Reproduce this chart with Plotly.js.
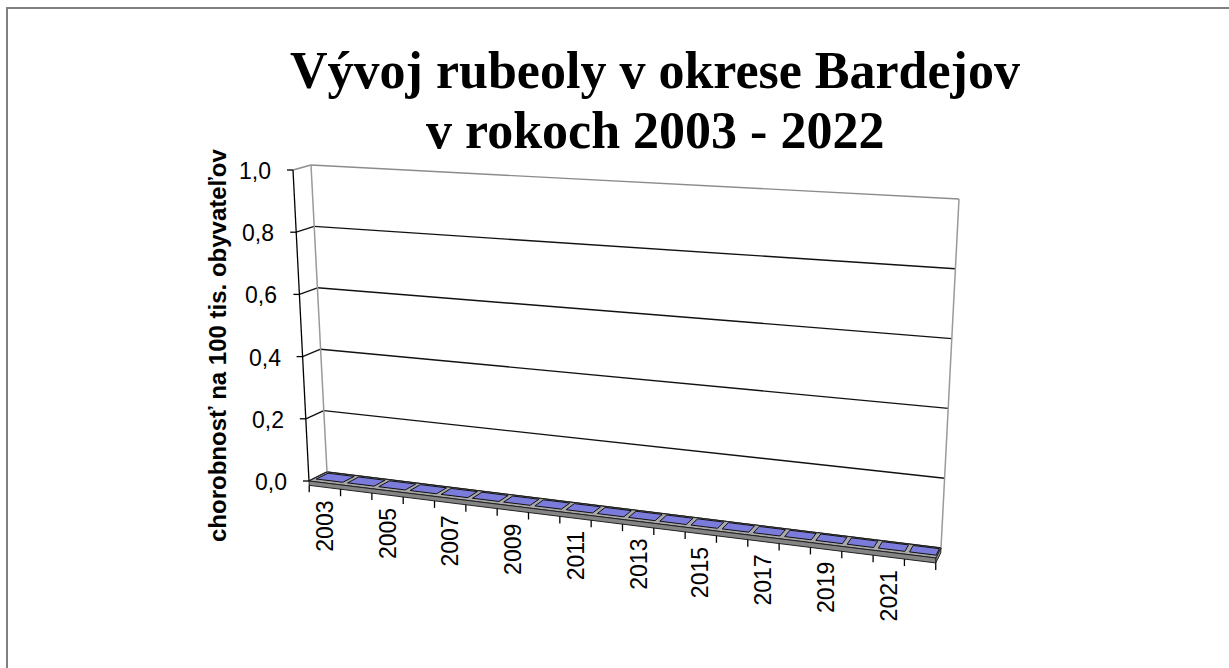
<!DOCTYPE html>
<html><head><meta charset="utf-8">
<script src="https://cdn.plot.ly/plotly-3.0.1.min.js"></script>
<style>html,body{margin:0;padding:0;background:#fff}#chart{width:1229px;height:668px}</style>
</head><body><div id="chart"></div>
<script>
// ---------- data ----------
const years = [2003,2004,2005,2006,2007,2008,2009,2010,2011,2012,2013,2014,2015,2016,2017,2018,2019,2020,2021,2022];
const incidence = [0,0,0,0,0,0,0,0,0,0,0,0,0,0,0,0,0,0,0,0];
const xTickLabels = ['2003','2005','2007','2009','2011','2013','2015','2017','2019','2021'];
const yTickValues = [0,0.2,0.4,0.6,0.8,1.0];
const yTickLabels = ['0,0','0,2','0,4','0,6','0,8','1,0'];
const yMax = 1.0;
const titleLine1 = 'Vývoj rubeoly v okrese Bardejov';
const titleLine2 = 'v rokoch 2003 - 2022';
const yAxisTitle = 'chorobnosť na 100 tis. obyvateľov';

// ---------- 3D frame (screen frame of the Excel-like box) ----------
const C = {
  flb:[309,481], flt:[293,170], blb:[327,472], blt:[311,165],
  frb:[936,558], frt:[954,205], brb:[941,548], brt:[959,199]
};
const FLOOR_T = 0.014;
const N = years.length;
function lerp(a,b,t){return [a[0]+(b[0]-a[0])*t, a[1]+(b[1]-a[1])*t];}
function proj(u,v,w){
  const fb=lerp(C.flb,C.frb,u), ft=lerp(C.flt,C.frt,u), bb=lerp(C.blb,C.brb,u), bt=lerp(C.blt,C.brt,u);
  return lerp(lerp(fb,ft,v), lerp(bb,bt,v), w);
}
const traces = [];
function poly(pts, fill, line, lw){
  const xs=pts.map(p=>p[0]).concat([pts[0][0]]), ys=pts.map(p=>p[1]).concat([pts[0][1]]);
  traces.push({type:'scatter',mode:'lines',x:xs,y:ys,fill:fill?'toself':'none',fillcolor:fill||'rgba(0,0,0,0)',
    line:{color:line,width:lw},hoverinfo:'skip',showlegend:false});
}
function seg(a,b,color,w){
  traces.push({type:'scatter',mode:'lines',x:[a[0],b[0]],y:[a[1],b[1]],line:{color:color,width:w},hoverinfo:'skip',showlegend:false});
}
// walls
yTickValues.forEach(t=>{
  const v=t/yMax;
  const col = (t===yMax)? '#8c8c8c' : '#111111';
  seg(proj(0,v,0),proj(0,v,1),col,1.4);
  seg(proj(0,v,1),proj(1,v,1),col,1.4);
});
seg(proj(0,0,1),proj(0,1,1),'#9a9a9a',1.5);
seg(proj(1,0,1),proj(1,1,1),'#9a9a9a',1.5);
// floor
poly([proj(0,0,0),proj(1,0,0),proj(1,0,1),proj(0,0,1)],'#a8a8a8','#222',1);
poly([proj(0,-FLOOR_T,0),proj(1,-FLOOR_T,0),proj(1,0,0),proj(0,0,0)],'#858585','#222',1);
poly([proj(1,-FLOOR_T,0),proj(1,-FLOOR_T,1),proj(1,0,1),proj(1,0,0)],'#909090','#222',1);
// bars
const BU0=0.12, BU1=0.97, BW0=0.2, BW1=0.85;
incidence.forEach((val,i)=>{
  const v=val/yMax, u0=(i+BU0)/N, u1=(i+BU1)/N, lift=0.002;
  if(v>0){
    poly([proj(u0,0,BW0),proj(u1,0,BW0),proj(u1,v,BW0),proj(u0,v,BW0)],'#5c5cb8','#000',1);
    poly([proj(u1,0,BW0),proj(u1,0,BW1),proj(u1,v,BW1),proj(u1,v,BW0)],'#4a4a99','#000',1);
  }
  poly([proj(u0,v+lift,BW0),proj(u1,v+lift,BW0),proj(u1,v+lift,BW1),proj(u0,v+lift,BW1)],'#7b7bdc','#111',1);
});
// front-left value axis
seg(proj(0,0,0),proj(0,1,0),'#000',1.3);
const annotations=[];
const tickFont={family:'Liberation Sans, Arial, sans-serif',size:23,color:'#000'};
yTickValues.forEach((t,k)=>{
  const p=proj(0,t/yMax,0);
  seg([p[0]-6,p[1]],p,'#000',1.3);
  annotations.push({x:p[0]-20,y:p[1]+1,xref:'x',yref:'y',text:yTickLabels[k],showarrow:false,xanchor:'right',yanchor:'middle',font:tickFont});
});
// category axis ticks and labels
for(let k=0;k<=N;k++){
  const p=proj(k/N,-FLOOR_T,0);
  seg(p,[p[0],p[1]+7],'#000',1.3);
}
years.forEach((yr,i)=>{
  const lab=String(yr);
  if(xTickLabels.indexOf(lab)<0) return;
  const p=proj((i+0.5)/N,-FLOOR_T,0);
  annotations.push({x:p[0],y:p[1]+11,xref:'x',yref:'y',text:lab,showarrow:false,textangle:-90,xanchor:'center',yanchor:'top',font:tickFont});
});
annotations.push({x:217,y:345,xref:'x',yref:'y',text:'<b>'+yAxisTitle+'</b>',showarrow:false,textangle:-90,xanchor:'center',yanchor:'middle',
  font:{family:'Liberation Sans, Arial, sans-serif',size:24,color:'#000'}});
const titleFont={family:'Liberation Serif, Times New Roman, serif',size:52,weight:'bold',color:'#000'};
annotations.push({x:655,y:130,xref:'x',yref:'y',text:'<b>'+titleLine2+'</b>',showarrow:false,xanchor:'center',yanchor:'middle',font:titleFont});

const layout={
  width:1229,height:668,margin:{l:0,r:0,t:0,b:0},paper_bgcolor:'#fff',plot_bgcolor:'#fff',
  title:{text:titleLine1,x:655/1229,xanchor:'center',y:1-70/668,yanchor:'middle',yref:'container',font:titleFont},
  xaxis:{range:[0,1229],visible:false,fixedrange:true},
  yaxis:{range:[668,0],visible:false,fixedrange:true},
  showlegend:false,annotations:annotations,
  shapes:[{type:'rect',xref:'x',yref:'y',x0:7,y0:8,x1:1250,y1:690,line:{color:'#808080',width:2}}]
};
Plotly.newPlot('chart',traces,layout,{staticPlot:true,displayModeBar:false});
</script></body></html>
